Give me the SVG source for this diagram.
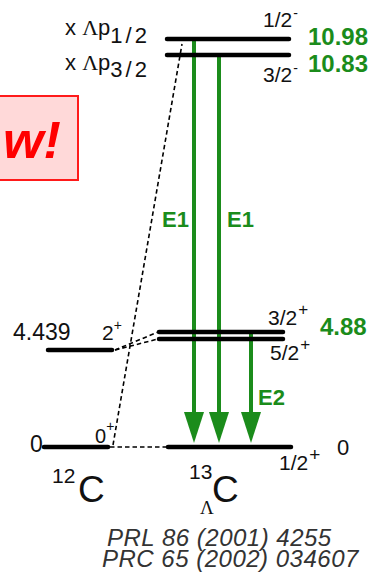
<svg xmlns="http://www.w3.org/2000/svg" width="373" height="575" viewBox="0 0 373 575">
<style>
text{font-family:"Liberation Sans",Arial,sans-serif;fill:#111}
.lvl{stroke:#000;stroke-width:4.5;stroke-linecap:round}
.dash{stroke:#000;stroke-width:1.6;stroke-dasharray:4.5 3;fill:none}
.gl{stroke:#1b8c1b;stroke-width:4;fill:none}
.gh{fill:#1b8c1b}
.gt{fill:#1b8c1b;font-weight:bold}
.serif{font-family:"Liberation Serif","Times New Roman",serif}
.ref{font-style:italic;fill:#333;font-size:24px;letter-spacing:0.5px}
</style>
<rect width="373" height="575" fill="#fff"/>
<g id="badge">
<rect x="-5" y="96" width="83" height="84" fill="#ffd9d9" stroke="#ff1a1a" stroke-width="2"/>
<text x="3" y="158" style="font-size:52px;font-weight:bold;font-style:italic;fill:#ff0000">w!</text>
</g>
<g id="connectors">
<line class="dash" x1="113" y1="445" x2="182" y2="44"/>
<line class="dash" x1="115" y1="350" x2="158" y2="332"/>
<line class="dash" x1="115" y1="350" x2="158" y2="339"/>
<line class="dash" x1="110" y1="447" x2="167" y2="447"/>
<line class="gl" x1="194" y1="39" x2="194" y2="413"/>
<polygon class="gh" points="184,412 204,412 194,443"/>
<line class="gl" x1="219" y1="55" x2="219" y2="413"/>
<polygon class="gh" points="209,412 229,412 219,443"/>
<line class="gl" x1="251" y1="330" x2="251" y2="413"/>
<polygon class="gh" points="241,412 261,412 251,443"/>
<text class="gt" x="162" y="227" style="font-size:22px">E1</text>
<text class="gt" x="227" y="227" style="font-size:22px">E1</text>
<text class="gt" x="258" y="405" style="font-size:22px">E2</text>
</g>
<g id="L13C-p12">
<line class="lvl" x1="167" y1="39" x2="289" y2="39"/>
<text x="65" y="35" style="font-size:22px">x <tspan class="serif">Λ</tspan>p<tspan dy="8" style="letter-spacing:3px">1/2</tspan></text>
<text x="263" y="27" style="font-size:21px">1/2<tspan dx="1" dy="-9" style="font-size:14px">-</tspan></text>
<text class="gt" x="308" y="45" style="font-size:24px">10.98</text>
</g>
<g id="L13C-p32">
<line class="lvl" x1="167" y1="55" x2="289" y2="55"/>
<text x="65" y="70" style="font-size:22px">x <tspan class="serif">Λ</tspan>p<tspan dy="7" style="letter-spacing:3px">3/2</tspan></text>
<text x="263" y="82" style="font-size:21px">3/2<tspan dx="1" dy="-9" style="font-size:14px">-</tspan></text>
<text class="gt" x="308" y="72" style="font-size:24px">10.83</text>
</g>
<g id="L13C-488">
<line class="lvl" x1="159" y1="332" x2="283" y2="332"/>
<line class="lvl" x1="159" y1="339" x2="283" y2="339"/>
<text x="268" y="325" style="font-size:21px">3/2<tspan dx="1" dy="-10" style="font-size:17px">+</tspan></text>
<text x="270" y="360" style="font-size:21px">5/2<tspan dx="1" dy="-10" style="font-size:17px">+</tspan></text>
<text class="gt" x="320" y="335" style="font-size:24px">4.88</text>
</g>
<g id="L13C-gs">
<line class="lvl" x1="168" y1="447" x2="291" y2="447"/>
<text x="279" y="470" style="font-size:21px">1/2<tspan dx="1" dy="-9" style="font-size:19px">+</tspan></text>
<text x="337" y="455" style="font-size:22px">0</text>
</g>
<g id="L12C-4439">
<line class="lvl" x1="48" y1="350" x2="112" y2="350"/>
<text x="13" y="340" style="font-size:23px">4.439</text>
<text x="102" y="340" style="font-size:21px">2<tspan dy="-10" style="font-size:14px">+</tspan></text>
</g>
<g id="L12C-gs">
<line class="lvl" x1="44" y1="447" x2="108" y2="447"/>
<text x="30" y="452" style="font-size:23px">0</text>
<text x="95" y="443" style="font-size:20px">0<tspan dy="-12" style="font-size:14px">+</tspan></text>
</g>
<g id="label-12C">
<text x="52" y="483" style="font-size:21px">12</text>
<text x="78" y="502" style="font-size:37px">C</text>
</g>
<g id="label-13C">
<text x="189" y="479" style="font-size:21px">13</text>
<text x="212" y="502" style="font-size:37px">C</text>
<text class="serif" x="200" y="514" style="font-size:19px">Λ</text>
</g>
<g id="refs">
<text class="ref" x="107" y="546">PRL 86 (2001) 4255</text>
<text class="ref" x="102" y="567">PRC 65 (2002) 034607</text>
</g>
</svg>
